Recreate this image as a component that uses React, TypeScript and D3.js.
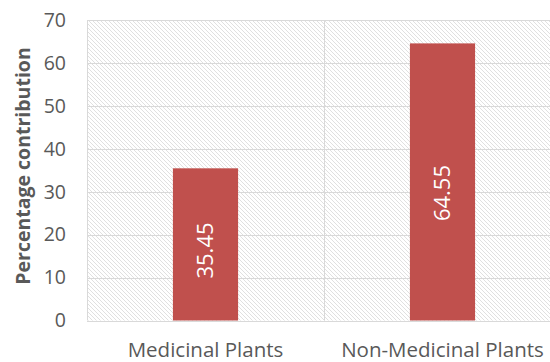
import React from "react";
import * as d3 from "d3";

const categories = ["Medicinal Plants", "Non-Medicinal Plants"];
const values = [35.45, 64.55];
const yTicks = [0, 10, 20, 30, 40, 50, 60, 70];
const yTitle = "Percentage contribution";

const W = 550;
const H = 362;
const margin = { left: 87, top: 20, right: 561, bottom: 320.5 };
const FONT = "'Open Sans', 'Liberation Sans', sans-serif";

export default function App() {
  const x = d3
    .scaleBand<string>()
    .domain(categories)
    .range([margin.left, margin.right])
    .paddingInner(0)
    .paddingOuter(0);
  const y = d3.scaleLinear().domain([0, 70]).range([margin.bottom, margin.top]);
  const barW = x.bandwidth() * 0.275;
  const boundaries = [margin.left, ...categories.map((c) => (x(c) as number) + x.bandwidth())];

  return (
    <svg
      width={W}
      height={H}
      style={{ position: "absolute", left: 0, top: 0, background: "#fff" }}
    >
      <defs>
        <pattern id="hatch" width={4} height={4} patternUnits="userSpaceOnUse">
          <rect width={4} height={4} fill="#fff" />
          <path d="M-1,-1 L5,5 M-1,3 L1,5 M3,-1 L5,1" stroke="#e0e0e0" strokeWidth={1} />
        </pattern>
      </defs>
      <rect
        x={margin.left}
        y={margin.top}
        width={margin.right - margin.left}
        height={margin.bottom - margin.top}
        fill="url(#hatch)"
      />
      {yTicks.map((t) => (
        <line
          key={"g" + t}
          x1={margin.left}
          x2={margin.right}
          y1={Math.round(y(t)) + 0.5}
          y2={Math.round(y(t)) + 0.5}
          stroke="#d9d9d9"
          strokeWidth={1}
        />
      ))}
      {boundaries.map((b, i) => (
        <line
          key={"v" + i}
          x1={Math.round(b) + 0.5}
          x2={Math.round(b) + 0.5}
          y1={margin.top}
          y2={margin.bottom}
          stroke="#d9d9d9"
          strokeWidth={1}
        />
      ))}
      {yTicks.map((t) => (
        <text
          key={"t" + t}
          x={66}
          y={y(t)}
          dy="0.35em"
          textAnchor="end"
          fontFamily={FONT}
          fontSize={19.5}
          fill="#595959"
        >
          {t}
        </text>
      ))}
      <text
        transform={`translate(30,166) rotate(-90)`}
        textAnchor="middle"
        fontFamily={FONT}
        fontSize={19.5}
        fontWeight="bold"
        fill="#595959"
      >
        {yTitle}
      </text>
      {categories.map((c, i) => {
        const cx = (x(c) as number) + x.bandwidth() / 2;
        const v = values[i];
        const ly = y(v * 0.46);
        return (
          <g key={c}>
            <rect
              x={cx - barW / 2}
              y={y(v)}
              width={barW}
              height={y(0) - y(v)}
              fill="#c0504d"
            />
            <text
              transform={`translate(${cx},${ly}) rotate(-90)`}
              textAnchor="middle"
              dy="0.35em"
              fontFamily={FONT}
              fontSize={22}
              fill="#fff"
            >
              {v.toFixed(2)}
            </text>
            <text
              x={cx}
              y={357}
              textAnchor="middle"
              fontFamily={FONT}
              fontSize={20.5}
              fill="#595959"
            >
              {c}
            </text>
          </g>
        );
      })}
    </svg>
  );
}
